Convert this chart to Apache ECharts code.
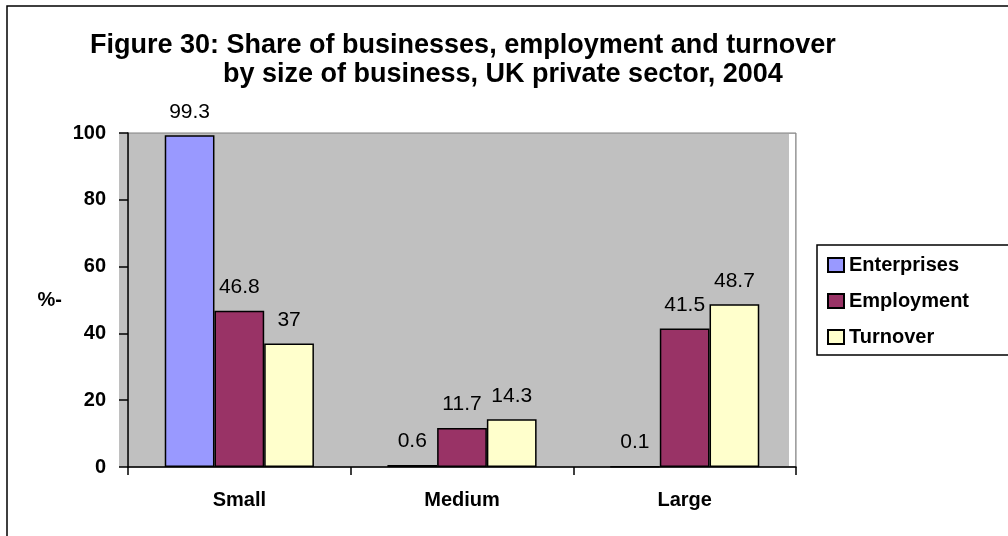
<!DOCTYPE html>
<html>
<head>
<meta charset="utf-8">
<script src="https://cdn.jsdelivr.net/npm/echarts@6/dist/echarts.min.js"></script>
<style>
  html, body { margin: 0; padding: 0; background: #fff; }
  #chart { width: 1008px; height: 536px; }
</style>
</head>
<body>
<div id="chart"></div>
<script>
const titleLine1 = 'Figure 30: Share of businesses, employment and turnover';
const titleLine2 = 'by size of business, UK private sector, 2004';
const categories = ['Small', 'Medium', 'Large'];
const seriesNames = ['Enterprises', 'Employment', 'Turnover'];
const enterprises = [99.3, 0.6, 0.1];
const employment = [46.8, 11.7, 41.5];
const turnover = [37, 14.3, 48.7];
const yTicks = [0, 20, 40, 60, 80, 100];
const yAxisName = '%-';

const FONT = '"Liberation Sans", Arial, sans-serif';
const colors = ['#9999FF', '#993366', '#FFFFCC'];
const values = [enterprises, employment, turnover];

const chart = echarts.init(document.getElementById('chart'), null, { renderer: 'canvas' });

const option = {
  animation: false,
  backgroundColor: '#ffffff',
  title: [
    { text: titleLine1, left: 90, top: 32, padding: 0,
      textStyle: { fontFamily: FONT, fontWeight: 'bold', fontSize: 27, color: '#000' } },
    { text: titleLine2, left: 223, top: 61, padding: 0,
      textStyle: { fontFamily: FONT, fontWeight: 'bold', fontSize: 27, color: '#000' } }
  ],
  graphic: [
    { type: 'rect', z: -1, shape: { x: 7, y: 6, width: 1010, height: 540 },
      style: { fill: 'none', stroke: '#000', lineWidth: 1.5 } },
    { type: 'rect', z: 0, shape: { x: 119, y: 133, width: 9, height: 334 },
      style: { fill: '#C0C0C0' } },
    { type: 'rect', z: 1, shape: { x: 789, y: 134, width: 6, height: 332 },
      style: { fill: '#ffffff' } }
  ],
  legend: {
    orient: 'vertical',
    left: 817,
    top: 245,
    padding: [10, 40, 8, 10],
    itemWidth: 16,
    itemHeight: 14,
    itemGap: 16,
    borderColor: '#000',
    borderWidth: 1.5,
    icon: 'rect',
    data: seriesNames,
    textStyle: { fontFamily: FONT, fontWeight: 'bold', fontSize: 20, color: '#000' }
  },
  grid: {
    left: 128, right: 212, top: 133, bottom: 69,
    show: true,
    backgroundColor: '#C0C0C0',
    borderColor: '#808080',
    borderWidth: 1
  },
  xAxis: {
    type: 'category',
    data: categories,
    axisLine: { lineStyle: { color: '#000', width: 1.5 } },
    axisTick: { show: true, length: 8, lineStyle: { color: '#000', width: 1.5 } },
    axisLabel: { margin: 23, fontFamily: FONT, fontWeight: 'bold', fontSize: 20, color: '#000' },
    splitLine: { show: false }
  },
  yAxis: {
    type: 'value',
    min: yTicks[0],
    max: yTicks[yTicks.length - 1],
    interval: yTicks[1] - yTicks[0],
    name: yAxisName,
    nameLocation: 'middle',
    nameRotate: 0,
    nameGap: 66,
    nameTextStyle: { fontFamily: FONT, fontWeight: 'bold', fontSize: 20, color: '#000' },
    axisLine: { show: true, lineStyle: { color: '#000', width: 1.5 } },
    axisTick: { show: true, length: 9, lineStyle: { color: '#000', width: 1.5 } },
    axisLabel: { margin: 22, fontFamily: FONT, fontWeight: 'bold', fontSize: 20, color: '#000' },
    splitLine: { show: false }
  },
  series: seriesNames.map((name, i) => ({
    name: name,
    type: 'bar',
    data: values[i],
    barGap: '0%',
    barCategoryGap: '33%',
    z: 2,
    itemStyle: { color: colors[i], borderColor: '#000', borderWidth: 1.5 },
    label: {
      show: true,
      position: 'top',
      distance: 13,
      fontFamily: FONT,
      fontSize: 21,
      color: '#000'
    }
  }))
};

chart.setOption(option);
</script>
</body>
</html>
